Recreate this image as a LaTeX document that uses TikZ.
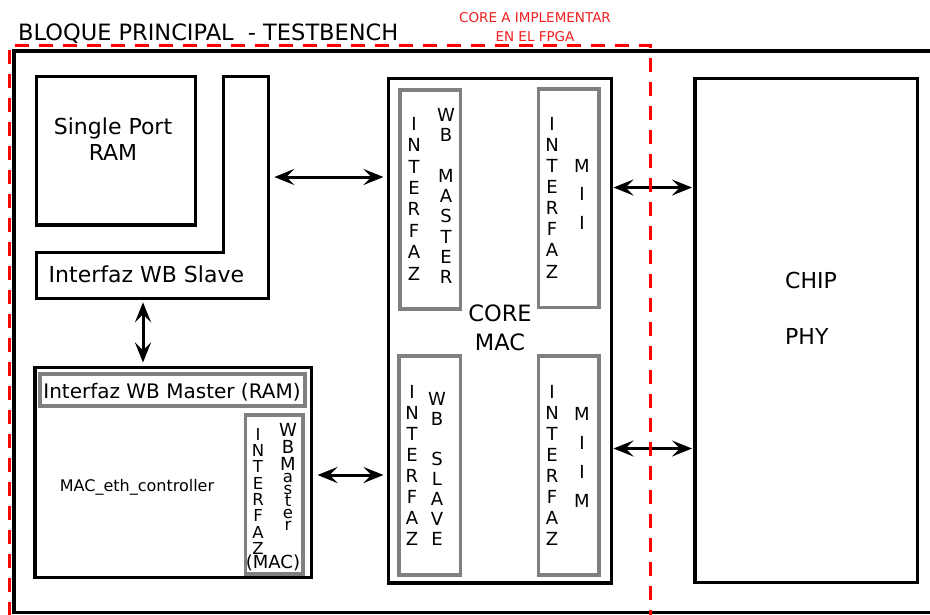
\documentclass[tikz,border=0pt]{standalone}
\usepackage{fontspec}
\setmainfont{DejaVu Sans}
\usetikzlibrary{arrows.meta}
\definecolor{boxgray}{RGB}{128,128,128}
\definecolor{fpgared}{RGB}{255,0,0}
\definecolor{labelred}{RGB}{240,30,30}
\newcommand\myfs[2]{\fontsize{#1}{#2}\selectfont}
\begin{document}
\begin{tikzpicture}[x=1pt,y=-1pt,
  bbox/.style={draw=black,line width=3.2pt,rectangle,inner sep=0pt,outer sep=0pt,anchor=north west},
  gbox/.style={draw=boxgray,line width=3.2pt,rectangle,inner sep=0pt,outer sep=0pt,anchor=north west},
  lbl/.style={inner sep=0pt,text=black},
  vcol/.style={inner sep=0pt,align=center,anchor=north,text=black},
  biarrow/.style={line width=3pt,{Stealth[length=20pt,width=16pt,inset=8pt]}-{Stealth[length=20pt,width=16pt,inset=8pt]}},
  fpgaline/.style={draw=fpgared,line width=3pt,dash pattern=on 14pt off 10pt}
]
\clip (0,0) rectangle (930,614);
\fill[white] (0,0) rectangle (930,614);

% outer frame (testbench)
\draw[line width=3.2pt] (14,51) rectangle (950,612.5);

% title
\node[lbl,anchor=base west,font=\myfs{22.5}{26}] (title) at (18,40) {BLOQUE PRINCIPAL~~- TESTBENCH};

% Single port RAM
\node[bbox,minimum width=159pt,minimum height=148.5pt] (ram) at (36.5,76.5) {};
\node[lbl,anchor=north,align=center,font=\myfs{22}{26}] (ramtxt) at (113,118) {Single Port\\RAM};

% L-shaped WB slave interface
\draw[line width=3.2pt,line join=miter] (223.3,76.5) -- (268.3,76.5) -- (268.3,298.3) -- (36.5,298.3) -- (36.5,252.3) -- (223.3,252.3) -- cycle;
\coordinate (slaveE) at (268.3,177);
\coordinate (slaveS) at (143,298.3);
\node[lbl,anchor=base west,font=\myfs{22}{26}] (slavetxt) at (48.5,282) {Interfaz WB Slave};

% MAC_eth_controller
\node[bbox,minimum width=276.5pt,minimum height=210pt] (mac) at (35,367.5) {};
\node[gbox,minimum width=265pt,minimum height=32pt] (ramif) at (40,374) {};
\node[lbl,anchor=base,font=\myfs{20}{24}] (ramiftxt) at (172,398) {Interfaz WB Master (RAM)};
\node[lbl,anchor=base,font=\myfs{16}{19}] (mactxt) at (137,491) {MAC\_eth\_controller};
\node[gbox,minimum width=57.5pt,minimum height=159pt] (macif) at (245.5,415) {};
\node[vcol,font=\myfs{16.5}{16.3}] (macifa) at (258,428) {I\\N\\T\\E\\R\\F\\A\\Z};
\node[vcol,font=\myfs{18}{17}] (macifb) at (288,423) {W\\B\\M};
\node[vcol,font=\myfs{16.5}{12}] (macifm) at (288,473) {a\\s\\t\\e\\r};
\node[lbl,anchor=base,font=\myfs{18}{21}] (macifc) at (273,568) {(MAC)};

% CORE MAC
\node[bbox,minimum width=223pt,minimum height=504.5pt] (core) at (388.5,78.5) {};
\node[lbl,anchor=north,align=center,font=\myfs{22.5}{29}] (coretxt) at (500,305) {CORE\\MAC};
\node[gbox,minimum width=60.5pt,minimum height=219pt] (tl) at (400,90) {};
\node[gbox,minimum width=60.5pt,minimum height=218.5pt] (tr) at (538.5,89) {};
\node[gbox,minimum width=61.5pt,minimum height=219pt] (bl) at (399,356) {};
\node[gbox,minimum width=60.5pt,minimum height=219pt] (br) at (538.5,356) {};

\node[vcol,font=\myfs{18}{21.4}] (tla) at (414,117) {I\\N\\T\\E\\R\\F\\A\\Z};
\node[vcol,font=\myfs{18}{20.3}] (tlb) at (446,108) {W\\B\\[20.3pt]M\\A\\S\\T\\E\\R};
\node[vcol,font=\myfs{18}{21.1}] (tra) at (552,117) {I\\N\\T\\E\\R\\F\\A\\Z};
\node[vcol,font=\myfs{18}{28.5}] (trb) at (582,159) {M\\I\\I};
\node[vcol,font=\myfs{18}{21}] (bla) at (412,385) {I\\N\\T\\E\\R\\F\\A\\Z};
\node[vcol,font=\myfs{18}{20}] (blb) at (437,392) {W\\B\\[20pt]S\\L\\A\\V\\E};
\node[vcol,font=\myfs{18}{21}] (bra) at (552,385) {I\\N\\T\\E\\R\\F\\A\\Z};
\node[vcol,font=\myfs{18}{29}] (brb) at (582,407) {M\\I\\I\\M};

% CHIP PHY
\node[bbox,minimum width=222.5pt,minimum height=504pt] (chip) at (695,78.5) {};
\node[lbl,anchor=north west,align=left,font=\myfs{22}{56}] (chiptxt) at (785,272) {CHIP\\PHY};

% connectors
\draw[biarrow,shorten <=6pt,shorten >=5pt] (slaveE) -- (core.west |- slaveE);
\draw[biarrow,shorten <=4pt,shorten >=5pt] (slaveS) -- (mac.north -| slaveS);
\coordinate (macE) at (mac.east |- 0,475);
\draw[biarrow,shorten <=6pt,shorten >=5pt] (macE) -- (core.west |- macE);
\coordinate (coreE1) at (core.east |- 0,187.5);
\coordinate (coreE2) at (core.east |- 0,448.5);
\draw[biarrow,shorten <=2pt,shorten >=3pt] (coreE1) -- (chip.west |- coreE1);
\draw[biarrow,shorten <=2pt,shorten >=3pt] (coreE2) -- (chip.west |- coreE2);

% FPGA boundary
\draw[fpgaline] (9.5,640) -- (9.5,45) -- (650,45) -- (650,640);
\node[vcol,text=labelred,font=\myfs{13.5}{19}] (fpgatxt) at (535,12.5) {CORE A IMPLEMENTAR\\EN EL FPGA};
\end{tikzpicture}
\end{document}
